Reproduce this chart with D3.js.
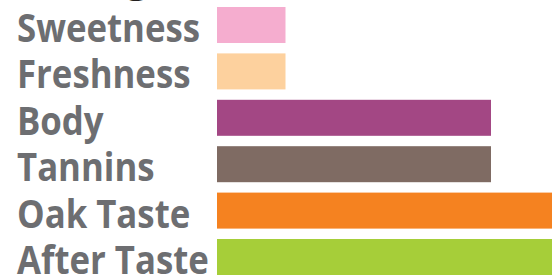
<!DOCTYPE html>
<html>
<head>
<meta charset="utf-8">
<script src="https://cdn.jsdelivr.net/npm/d3@7"></script>
<style>
  body { margin: 0; background: #fff; }
  svg { display: block; }
  .label { font-family: "Open Sans", sans-serif; font-weight: 700; fill: #6d6e71; }
  .title { font-family: "Open Sans", sans-serif; font-weight: 700; fill: #231f20; }
</style>
</head>
<body>
<svg id="chart" width="552" height="275"></svg>
<script>
// ----------
const CATEGORIES = ["Sweetness", "Freshness", "Body", "Tannins", "Oak Taste", "After Taste"];
const SCORES = [1, 1, 4, 4, 5, 5];
const BAR_COLORS = ["#f5adcf", "#fdd19e", "#a34784", "#7f6b63", "#f58220", "#a6ce39"];
const MAX_SCORE = 5;
const TITLE = "Tasting";

const WIDTH = 552, HEIGHT = 275;
const LABEL_X = 17;
const LABEL_WIDTH = 183; // width of "Sweetness" in the reference
const BAR_X = 217;
const G_X = 126; // where the title's "g" sits in the reference

// ----------
const svg = d3.select("#chart");

const y = d3.scaleBand()
  .domain(CATEGORIES)
  .range([1.8, 280.2])
  .paddingInner(0.224)
  .paddingOuter(0.112);

const x = d3.scaleLinear()
  .domain([0, MAX_SCORE])
  .range([BAR_X, BAR_X + 68.5 * MAX_SCORE]);

const color = d3.scaleOrdinal().domain(CATEGORIES).range(BAR_COLORS);

// title is cropped off the top, only the g descender shows
const title = svg.append("text")
  .attr("class", "title")
  .attr("y", -8)
  .style("font-size", "40px")
  .text(TITLE);
const gOffset = title.node().getSubStringLength(0, TITLE.indexOf("g"));
title.attr("x", G_X - gOffset);

svg.selectAll("rect.bar")
  .data(CATEGORIES)
  .join("rect")
  .attr("class", "bar")
  .attr("x", x(0))
  .attr("y", d => y(d))
  .attr("width", (d, i) => x(SCORES[i]) - x(0))
  .attr("height", y.bandwidth())
  .attr("fill", d => color(d));

const labels = svg.selectAll("text.label")
  .data(CATEGORIES)
  .join("text")
  .attr("class", "label")
  .attr("y", d => y(d) + y.bandwidth() / 2 + 17)
  .style("font-size", "39px")
  .text(d => d);

// squeeze the wide fallback font to the reference's glyph width
const ref = labels.filter(d => d === "Sweetness").node().getComputedTextLength();
const sx = LABEL_WIDTH / ref;
labels.attr("transform", d => `translate(${LABEL_X},0) scale(${sx},1)`);
</script>
</body>
</html>
